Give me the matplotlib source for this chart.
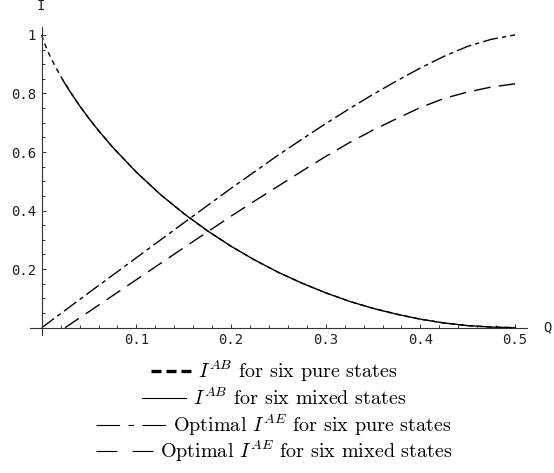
import matplotlib
matplotlib.use('Agg')
import matplotlib.pyplot as plt
from matplotlib.lines import Line2D
from matplotlib.ticker import FixedLocator, MultipleLocator

# ---- data ----
q_pure_ab = [0, 0.001, 0.0025, 0.005, 0.0075, 0.01, 0.015, 0.02, 0.03, 0.04, 0.05, 0.06,
             0.075, 0.1, 0.125, 0.15, 0.175, 0.2, 0.225, 0.25, 0.275, 0.3, 0.325, 0.35,
             0.375, 0.4, 0.425, 0.45, 0.475, 0.5]
i_pure_ab = [1.0, 0.989, 0.975, 0.955, 0.936, 0.919, 0.888, 0.859, 0.806, 0.758, 0.714, 0.673,
             0.616, 0.531, 0.456, 0.390, 0.331, 0.278, 0.231, 0.189, 0.152, 0.119, 0.090, 0.066,
             0.046, 0.029, 0.016, 0.007, 0.002, 0.0]

q_mixed_ab = [0.022, 0.03, 0.04, 0.05, 0.06, 0.075, 0.1, 0.125, 0.15, 0.175, 0.2, 0.225, 0.25,
              0.275, 0.3, 0.325, 0.35, 0.375, 0.4, 0.425, 0.45, 0.475, 0.5]
i_mixed_ab = [0.847, 0.806, 0.758, 0.714, 0.673, 0.616, 0.531, 0.456, 0.390, 0.331, 0.278, 0.231,
              0.189, 0.152, 0.119, 0.090, 0.066, 0.046, 0.029, 0.016, 0.007, 0.002, 0.0]

q_pure_ae = [0, 0.05, 0.1, 0.15, 0.2, 0.25, 0.275, 0.3, 0.325, 0.35, 0.375, 0.4, 0.425, 0.45,
             0.475, 0.5]
i_pure_ae = [0, 0.12, 0.239, 0.358, 0.476, 0.59, 0.644, 0.697, 0.748, 0.797, 0.843, 0.887, 0.927,
             0.961, 0.985, 1.0]

q_mixed_ae = [0.0246, 0.05, 0.1, 0.15, 0.2, 0.225, 0.25, 0.275, 0.3, 0.325, 0.35, 0.375, 0.4,
              0.425, 0.45, 0.475, 0.5]
i_mixed_ae = [0, 0.055, 0.164, 0.273, 0.381, 0.433, 0.484, 0.535, 0.585, 0.632, 0.675, 0.714,
              0.752, 0.783, 0.805, 0.822, 0.833]

x_ticks = [0.1, 0.2, 0.3, 0.4, 0.5]
x_tick_labels = ['0.1', '0.2', '0.3', '0.4', '0.5']
y_ticks = [0.2, 0.4, 0.6, 0.8, 1.0]
y_tick_labels = ['0.2', '0.4', '0.6', '0.8', '1']

legend_labels = [r'$I^{AB}$ for six pure states',
                 r'$I^{AB}$ for six mixed states',
                 r'Optimal $I^{AE}$ for six pure states',
                 r'Optimal $I^{AE}$ for six mixed states']

# ---- style ----
plt.rcParams['lines.scale_dashes'] = False
plt.rcParams['mathtext.fontset'] = 'cm'
plt.rcParams['axes.unicode_minus'] = False
mono = 'DejaVu Sans Mono'

W, H = 554, 473
fig = plt.figure(figsize=(W / 100, H / 100), dpi=100)

# axes box in pixels (left, top, right, bottom)
L, T, R, B = 30, 27, 527, 335
ax = fig.add_axes([L / W, 1 - B / H, (R - L) / W, (B - T) / H])
ax.set_xlim(-0.0124, 0.5126)
ax.set_ylim(-0.025, 1.027)

lw = 1.0
ax.plot(q_pure_ab, i_pure_ab, color='black', lw=lw, dashes=(3.6, 3.0))
ax.plot(q_mixed_ab, i_mixed_ab, color='black', lw=lw)
ax.plot(q_pure_ae, i_pure_ae, color='black', lw=lw, dashes=(11, 3, 3, 3))
ax.plot(q_mixed_ae, i_mixed_ae, color='black', lw=lw, dashes=(12, 6))

for s in ['top', 'right']:
    ax.spines[s].set_visible(False)
ax.spines['left'].set_position(('data', 0))
ax.spines['bottom'].set_position(('data', 0))
for s in ['left', 'bottom']:
    ax.spines[s].set_linewidth(0.8)
    ax.spines[s].set_color('#333333')

ax.xaxis.set_major_locator(FixedLocator(x_ticks))
ax.set_xticklabels(x_tick_labels)
ax.yaxis.set_major_locator(FixedLocator(y_ticks))
ax.set_yticklabels(y_tick_labels)
ax.xaxis.set_minor_locator(MultipleLocator(0.02))
ax.yaxis.set_minor_locator(MultipleLocator(0.05))
ax.tick_params(which='major', direction='in', length=3.2, width=0.7, color='#333333',
               labelsize=10, pad=4, labelcolor='#222222')
ax.tick_params(which='minor', direction='in', length=1.9, width=0.7, color='#333333')
for lab in ax.get_xticklabels() + ax.get_yticklabels():
    lab.set_fontfamily(mono)

fig.text(41 / W, 1 - 6 / H, 'I', family=mono, fontsize=10, ha='center', va='center',
         color='#222222')
fig.text(547 / W, 1 - 327 / H, 'Q', family=mono, fontsize=10, ha='center', va='center',
         color='#222222')

# ---- legend (rows centred below plot) ----
rows_y = [371, 398, 425, 451]
samples = [
    dict(length=40, lw=2.4, dashes=(7.2, 3.6)),
    dict(length=44, lw=0.8, dashes=None),
    dict(length=70, lw=0.8, dashes=(17, 6, 4, 6)),
    dict(length=57, lw=0.8, dashes=(15, 11)),
]
renderer = fig.canvas.get_renderer()
center = 274
gap = 7
for y, lab, smp in zip(rows_y, legend_labels, samples):
    t = fig.text(0, 1 - y / H, lab, family='cmr10', fontsize=14.5, ha='left', va='center')
    tw = t.get_window_extent(renderer).width
    total = smp['length'] + gap + tw
    x0 = center - total / 2
    t.set_x((x0 + smp['length'] + gap) / W)
    ln = Line2D([x0 / W, (x0 + smp['length']) / W], [1 - y / H, 1 - y / H],
                transform=fig.transFigure, color='black', lw=smp['lw'])
    if smp['dashes'] is not None:
        ln.set_dashes(smp['dashes'])
    fig.add_artist(ln)

fig.savefig('out.png', dpi=100)
